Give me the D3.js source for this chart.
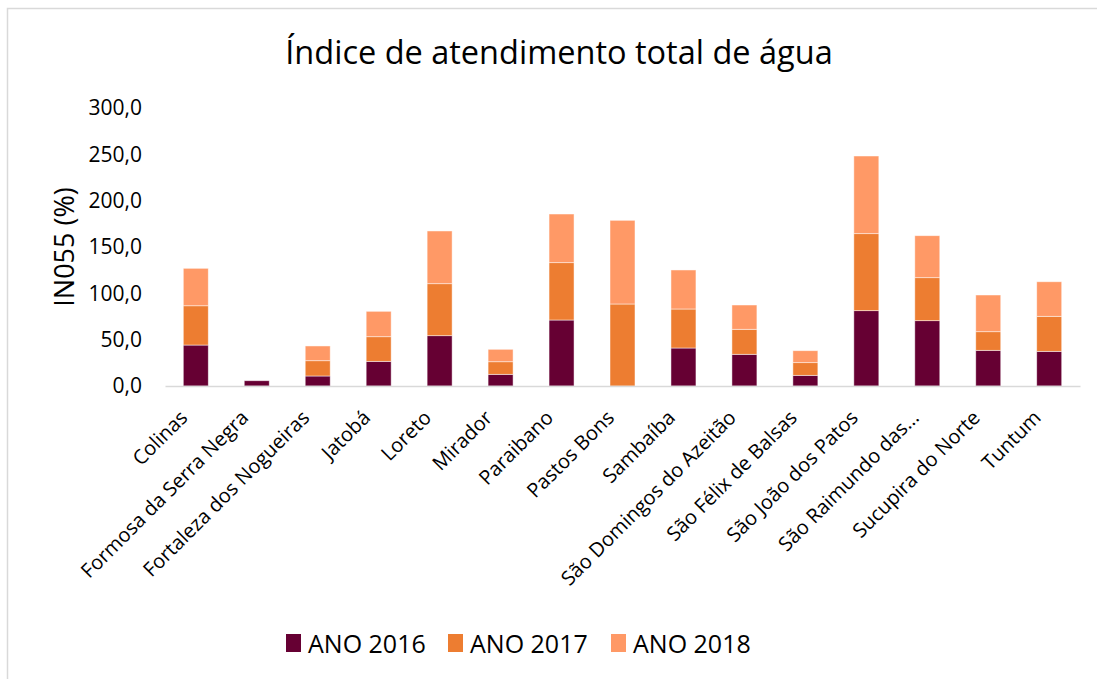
<!DOCTYPE html>
<html>
<head>
<meta charset="utf-8">
<script src="https://cdn.jsdelivr.net/npm/d3@7"></script>
<style>
    body { margin: 0; background: #fff; }
    svg { font-family: "Open Sans", "Noto Sans", sans-serif; }
</style>
</head>
<body>
<svg id="chart"></svg>
<script>
// Municipalities (x categories)
const cities = ["Colinas", "Formosa da Serra Negra", "Fortaleza dos Nogueiras", "Jatobá", "Loreto",
    "Mirador", "Paraibano", "Pastos Bons", "Sambaíba", "São Domingos do Azeitão",
    "São Félix de Balsas", "São João dos Patos", "São Raimundo das...", "Sucupira do Norte", "Tuntum"];

// Series values
const ano2016 = [44.2, 5.7, 10.8, 26.6, 54.3, 12.6, 71.2, 0, 41.0, 34.2, 11.5, 81.3, 70.5, 38.5, 37.4];
const ano2017 = [42.4, 0, 16.5, 26.6, 56.1, 13.6, 61.9, 88.5, 42.1, 27.0, 13.7, 83.1, 46.4, 20.1, 37.8];
const ano2018 = [40.4, 0, 15.9, 27.4, 56.9, 13.4, 52.5, 90.3, 42.1, 26.2, 12.9, 83.8, 45.3, 39.6, 37.3];

const seriesNames = ["ANO 2016", "ANO 2017", "ANO 2018"];
const yTicks = [0, 50, 100, 150, 200, 250, 300];

const width = 1097, height = 679;
const margin = { top: 108, right: 17, bottom: 293, left: 165 };
const innerW = width - margin.left - margin.right;
const innerH = height - margin.top - margin.bottom;

const colors = ["#660033", "#ED7D31", "#FF9966"];

const svg = d3.select("#chart")
    .attr("width", width)
    .attr("height", height);

// outer chart frame (only top/left visible in reference)
svg.append("rect")
    .attr("x", 7.5).attr("y", 8.5)
    .attr("width", width + 20).attr("height", height + 20)
    .attr("fill", "none")
    .attr("stroke", "#d9d9d9")
    .attr("stroke-width", 1.5);

// Title
svg.append("text")
    .attr("x", 559).attr("y", 64)
    .attr("text-anchor", "middle")
    .attr("font-size", 32.5)
    .attr("fill", "#000")
    .text("Índice de atendimento total de água");

const chart = svg.append("g")
    .attr("transform", `translate(${margin.left},${margin.top})`);

// Build table for stack
const table = cities.map((c, i) => ({
    city: c,
    "ANO 2016": ano2016[i],
    "ANO 2017": ano2017[i],
    "ANO 2018": ano2018[i]
}));

const stacked = d3.stack().keys(seriesNames)(table);

const xScale = d3.scaleBand()
    .domain(cities)
    .range([0, innerW])
    .paddingInner(0.59)
    .paddingOuter(0.3);

const yScale = d3.scaleLinear()
    .domain([0, 300])
    .range([innerH, 0]);

// Y axis
const yAxis = d3.axisLeft(yScale)
    .tickValues(yTicks)
    .tickSize(0)
    .tickPadding(23)
    .tickFormat(d => d3.format(".1f")(d).replace(".", ","));

const yAxisG = chart.append("g")
    .attr("class", "axis y-axis")
    .call(yAxis);
yAxisG.select(".domain").remove();
yAxisG.selectAll("text")
    .attr("font-size", 21)
    .attr("fill", "#000")
    .attr("font-family", "Open Sans");

// Bars
chart.selectAll(".series")
    .data(stacked)
    .join("g")
    .attr("class", "series")
    .attr("fill", (d, i) => colors[i])
    .selectAll("rect")
    .data(d => d)
    .join("rect")
    .attr("x", d => xScale(d.data.city))
    .attr("y", d => yScale(d[1]))
    .attr("width", xScale.bandwidth())
    .attr("height", d => Math.max(0, yScale(d[0]) - yScale(d[1])))
    .attr("stroke", d => (d[1] - d[0]) > 0 ? "rgba(255,255,255,0.6)" : "none")
    .attr("stroke-width", 0.8);

// X axis
const xAxis = d3.axisBottom(xScale).tickSize(0).tickPadding(0);
const xAxisG = chart.append("g")
    .attr("class", "axis x-axis")
    .attr("transform", `translate(0,${innerH})`)
    .call(xAxis);
xAxisG.select(".domain")
    .attr("stroke", "#d9d9d9")
    .attr("stroke-width", 1.5);
xAxisG.selectAll("text")
    .attr("font-size", 20)
    .attr("fill", "#000")
    .attr("font-family", "Open Sans")
    .attr("text-anchor", "end")
    .attr("dy", "0.35em")
    .attr("transform", "translate(-12,28) rotate(-45)");

// Y axis title
svg.append("text")
    .attr("transform", "translate(74,247) rotate(-90)")
    .attr("text-anchor", "middle")
    .attr("font-size", 27)
    .attr("fill", "#000")
    .text("IN055 (%)");

// Legend
const legendX = [286, 448, 611];
const legend = svg.append("g").attr("class", "legend");
seriesNames.forEach((name, i) => {
    legend.append("rect")
        .attr("x", legendX[i]).attr("y", 634)
        .attr("width", 15).attr("height", 18)
        .attr("fill", colors[i]);
    legend.append("text")
        .attr("x", legendX[i] + 22).attr("y", 653)
        .attr("font-size", 25)
        .attr("fill", "#000")
        .text(name);
});
</script>
</body>
</html>
